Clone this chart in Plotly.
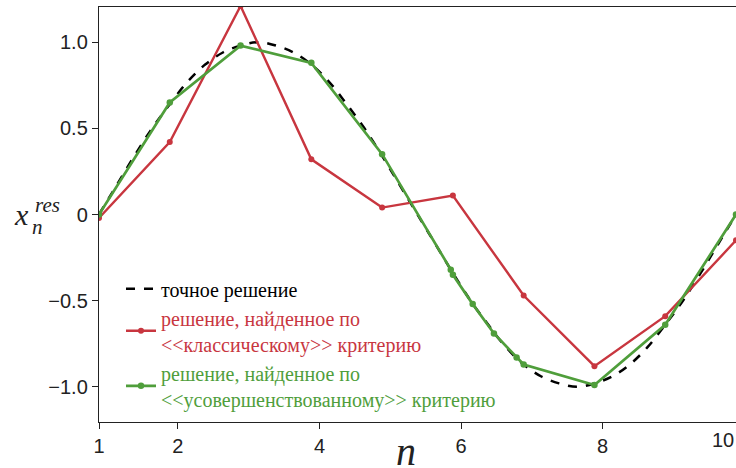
import plotly.graph_objects as go

# ---- data ----
n_exact = [1.0, 1.25, 1.5, 1.75, 2.0, 2.25, 2.5, 2.75, 3.0, 3.25, 3.5, 3.75, 4.0,
           4.25, 4.5, 4.75, 5.0, 5.25, 5.5, 5.75, 6.0, 6.25, 6.5, 6.75, 7.0,
           7.25, 7.5, 7.75, 8.0, 8.25, 8.5, 8.75, 9.0, 9.25, 9.5, 9.75, 10.0]
x_exact = [0.00, 0.17, 0.34, 0.50, 0.64, 0.77, 0.87, 0.94, 0.98, 1.00, 0.98, 0.94, 0.87,
           0.77, 0.64, 0.50, 0.34, 0.17, 0.00, -0.17, -0.34, -0.50, -0.64, -0.77, -0.87,
           -0.94, -0.98, -1.00, -0.98, -0.94, -0.87, -0.77, -0.64, -0.50, -0.34, -0.17, 0.00]

n_classic = [1, 2, 3, 4, 5, 6, 7, 8, 9, 10]
x_classic = [-0.02, 0.42, 1.21, 0.32, 0.04, 0.11, -0.47, -0.88, -0.59, -0.15]

n_improved = [1, 2, 3, 4, 5, 5.97, 6.0, 6.28, 6.58, 6.9, 7.0, 8, 9, 10]
x_improved = [0.00, 0.65, 0.98, 0.88, 0.35, -0.32, -0.35, -0.52, -0.69, -0.83, -0.87, -0.99, -0.64, 0.00]

tick_vals = [1, 2.115, 4.115, 6.115, 8.115]
tick_text = ["1", "2", "4", "6", "8"]
y_tick_vals = [-1.0, -0.5, 0, 0.5, 1.0]
y_tick_text = ["\u22121.0", "\u22120.5", "0", "0.5", "1.0"]

names = ["точное решение",
         "решение, найденное по<br>&lt;&lt;классическому&gt;&gt; критерию",
         "решение, найденное по<br>&lt;&lt;усовершенствованному&gt;&gt; критерию"]

RED = "#c8363f"
GREEN = "#4f9e3b"
SERIF = "Liberation Serif, 'Times New Roman', Times, serif"
SANS = "Liberation Sans, Arial, Helvetica, sans-serif"

fig = go.Figure()
fig.add_trace(go.Scatter(x=n_exact, y=x_exact, mode="lines", name=names[0],
                         line=dict(color="black", width=2.5, dash="dash", shape="spline")))
fig.add_trace(go.Scatter(x=n_classic, y=x_classic, mode="lines+markers", name=names[1],
                         line=dict(color=RED, width=2.4), marker=dict(size=6, color=RED)))
fig.add_trace(go.Scatter(x=n_improved, y=x_improved, mode="lines+markers", name=names[2],
                         line=dict(color=GREEN, width=2.7), marker=dict(size=6.5, color=GREEN)))

fig.update_layout(
    width=736, height=468,
    margin=dict(l=99, r=0, t=7, b=46),
    plot_bgcolor="white", paper_bgcolor="white",
    showlegend=True,
    legend=dict(x=(121 - 99) / 637.0, y=(421.7 - 269) / 415.0, xanchor="left", yanchor="top",
                bgcolor="rgba(0,0,0,0)", borderwidth=0,
                font=dict(family=SERIF, size=20, color="black"),
                tracegroupgap=0),
    xaxis=dict(range=[1, 10], showgrid=False, zeroline=False,
               showline=True, linecolor="#222", linewidth=1.4, mirror=True,
               ticks="outside", ticklen=6, tickwidth=1.3, tickcolor="#222",
               tickvals=tick_vals, ticktext=tick_text,
               tickfont=dict(family=SANS, size=20, color="#222")),
    yaxis=dict(range=[-1.204, 1.204], showgrid=False, zeroline=False,
               showline=True, linecolor="#222", linewidth=1.4,
               ticks="outside", ticklen=6, tickwidth=1.3, tickcolor="#222",
               tickvals=y_tick_vals, ticktext=y_tick_text,
               tickfont=dict(family=SANS, size=20, color="#222")),
)

def px2paper(px, py):
    return (px - 99) / 637.0, (421.7 - py) / 415.0

ann = []
x, y = px2paper(736, 440)
ann.append(dict(text="10", x=x, y=y, xref="paper", yref="paper", showarrow=False,
                font=dict(family=SANS, size=20, color="#222"),
                xanchor="right", yanchor="middle"))
x, y = px2paper(406, 451)
ann.append(dict(text="<i>n</i>", x=x, y=y, xref="paper", yref="paper", showarrow=False,
                font=dict(family=SERIF, size=40, color="#222"),
                xanchor="center", yanchor="middle"))
x, y = px2paper(21, 214)
ann.append(dict(text="<i>x</i>", x=x, y=y, xref="paper", yref="paper", showarrow=False,
                font=dict(family=SERIF, size=30, color="#222"),
                xanchor="center", yanchor="middle"))
x, y = px2paper(47, 205)
ann.append(dict(text="<i>res</i>", x=x, y=y, xref="paper", yref="paper", showarrow=False,
                font=dict(family=SERIF, size=21, color="#222"),
                xanchor="center", yanchor="middle"))
x, y = px2paper(37, 227)
ann.append(dict(text="<i>n</i>", x=x, y=y, xref="paper", yref="paper", showarrow=False,
                font=dict(family=SERIF, size=21, color="#222"),
                xanchor="center", yanchor="middle"))
fig.update_layout(annotations=ann)

fig.write_html("out.html", config={"displayModeBar": False})

with open("out.html", "r", encoding="utf-8") as f:
    html = f.read()
style = "<style>html,body{margin:0;padding:0;overflow:hidden;}</style>"
js = """
<script>
window.addEventListener('load', function(){
  var gd = document.querySelector('.plotly-graph-div');
  function colorize(){
    var cols = ['black', '%s', '%s'];
    var items = gd.querySelectorAll('.legend .traces');
    items.forEach(function(t, i){
      t.querySelectorAll('text').forEach(function(tx){ tx.style.fill = cols[i]; });
    });
  }
  colorize();
  if (gd.on) gd.on('plotly_afterplot', colorize);
});
</script>
""" % (RED, GREEN)
html = html.replace("<head>", "<head>" + style, 1)
html = html.replace("</body>", js + "</body>")
with open("out.html", "w", encoding="utf-8") as f:
    f.write(html)
